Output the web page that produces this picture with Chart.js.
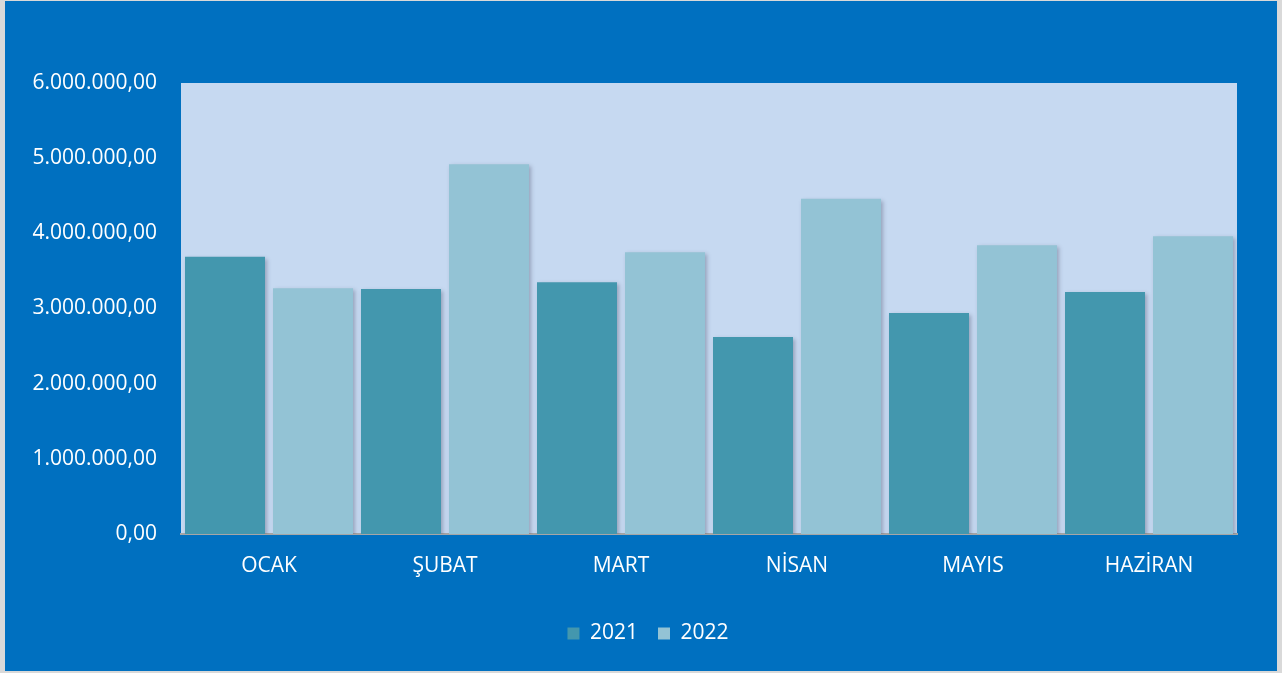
<!DOCTYPE html>
<html>
<head>
<meta charset="utf-8">
<script src="https://cdn.jsdelivr.net/npm/chart.js@4/dist/chart.umd.min.js"></script>
<style>
  html, body { margin: 0; padding: 0; background: #d9d9d9; }
  #wrap { position: absolute; left: 5px; top: 1px; width: 1272px; height: 670px; background: #0070C0; }
  canvas { display: block; }
</style>
</head>
<body>
<div id="wrap"><canvas id="c" width="1272" height="670"></canvas></div>
<script>
const categories = ['OCAK', 'ŞUBAT', 'MART', 'NİSAN', 'MAYIS', 'HAZİRAN'];
const series2021 = [3690000, 3260000, 3350000, 2620000, 2940000, 3220000];
const series2022 = [3270000, 4920000, 3750000, 4460000, 3840000, 3960000];
const seriesNames = ['2021', '2022'];
const yTicks = [0, 1000000, 2000000, 3000000, 4000000, 5000000, 6000000];

const fontFamily = "'Open Sans', 'Liberation Sans', sans-serif";

function fmt(v) {
  const s = Math.round(v).toString().replace(/\B(?=(\d{3})+(?!\d))/g, '.');
  return s + ',00';
}

const plotBg = {
  id: 'plotBg',
  beforeDraw(chart) {
    const { ctx, chartArea: a } = chart;
    ctx.save();
    ctx.fillStyle = '#C6D9F1';
    ctx.fillRect(a.left, a.top, a.right - a.left, a.bottom - a.top);
    ctx.restore();
  }
};

const shadow = {
  id: 'shadow',
  beforeDatasetsDraw(chart) {
    chart.ctx.save();
    chart.ctx.shadowColor = 'rgba(60,60,90,0.35)';
    chart.ctx.shadowBlur = 4;
    chart.ctx.shadowOffsetX = 2;
    chart.ctx.shadowOffsetY = 2;
  },
  afterDatasetsDraw(chart) {
    chart.ctx.restore();
  }
};

const legendShift = {
  id: 'legendShift',
  afterLayout(chart) {
    if (chart.legend) {
      chart.legend.left += 27;
      chart.legend.right += 27;
      chart.legend.top += 1;
      chart.legend.bottom += 1;
    }
  }
};

new Chart(document.getElementById('c'), {
  type: 'bar',
  data: {
    labels: categories,
    datasets: [
      { label: seriesNames[0], data: series2021, backgroundColor: '#4397AE', borderWidth: 0, categoryPercentage: 1, barPercentage: 0.909 },
      { label: seriesNames[1], data: series2022, backgroundColor: '#93C3D5', borderWidth: 0, categoryPercentage: 1, barPercentage: 0.909 }
    ]
  },
  options: {
    responsive: false,
    animation: false,
    layout: { padding: { top: 82, right: 40, left: 0, bottom: 18 } },
    plugins: {
      legend: {
        position: 'bottom',
        labels: {
          color: '#ffffff',
          font: { family: fontFamily, size: 21 },
          boxWidth: 12,
          boxHeight: 12,
          padding: 20,
          useBorderRadius: false
        }
      },
      tooltip: { enabled: false }
    },
    scales: {
      x: {
        grid: { display: false, drawTicks: false },
        border: { display: true, color: '#A6A6A6', width: 2 },
        ticks: { color: '#ffffff', font: { family: fontFamily, size: 21 }, padding: 19 },
        afterFit(scale) { scale.height = 68; }
      },
      y: {
        min: 0, max: 6000000,
        afterBuildTicks(scale) { scale.ticks = yTicks.map(v => ({ value: v })); },
        grid: { display: false, drawTicks: false },
        border: { display: false },
        ticks: { color: '#ffffff', font: { family: fontFamily, size: 21 }, padding: 24, callback: v => fmt(v) },
        afterFit(scale) { scale.width = 176; }
      }
    }
  },
  plugins: [plotBg, shadow, legendShift]
});
</script>
</body>
</html>
